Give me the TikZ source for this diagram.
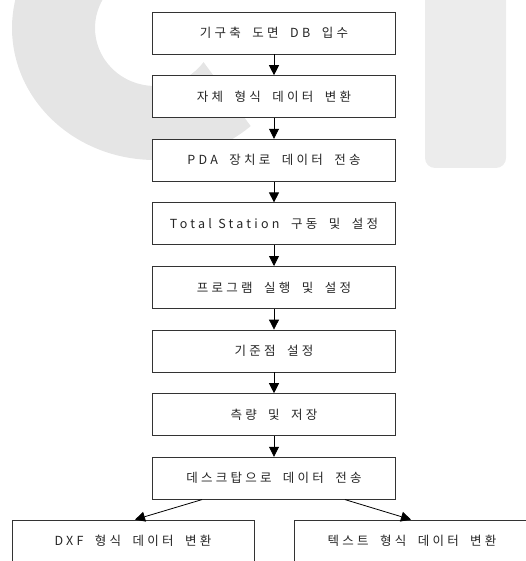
\documentclass[tikz,border=0pt]{standalone}
\usepackage{fontspec}
\newfontfamily\kr[LetterSpace=26,WordSpace=1.9]{Noto Sans CJK KR}
\usetikzlibrary{arrows.meta}
\begin{document}
\begin{tikzpicture}[x=1pt,y=-1pt,
  box/.style={draw=black!80, line width=0.8pt, fill=white, minimum width=243pt, minimum height=42pt, inner sep=0pt, font=\kr\fontsize{12.5}{15}\selectfont, text=black!85},
  arr/.style={draw=black, line width=0.8pt, -{Triangle[width=10pt,length=10pt]}},
  wm/.style={fill=gray!20}]
\useasboundingbox (0,0) rectangle (526,561);
\clip (0,0) rectangle (526,561);
% watermark
\fill[gray!15, rounded corners=10pt] (425,-20) rectangle (506,168);
\begin{scope}[shift={(155,28)}]
\fill[wm] (48:143 and 132) arc[start angle=48, end angle=215, x radius=143, y radius=132]
  -- (215:60 and 58) arc[start angle=215, end angle=36, x radius=60, y radius=58] -- cycle;
\end{scope}
% boxes
\node[box] (b1) at (274,33) {기구축 도면 DB 입수};
\node[box] (b2) at (274,96.6) {자체 형식 데이터 변환};
\node[box] (b3) at (274,160.2) {PDA 장치로 데이터 전송};
\node[box] (b4) at (274,223.8) {Total{\kern-5pt} Station 구동 및 설정};
\node[box] (b5) at (274,287.4) {프로그램 실행 및 설정};
\node[box] (b6) at (274,351) {기준점 설정};
\node[box] (b7) at (274,414.6) {측량 및 저장};
\node[box] (b8) at (274,478.2) {데스크탑으로 데이터 전송};
\node[box, minimum width=242pt] (bl) at (133,541) {DXF 형식 데이터 변환};
\node[box, minimum width=236pt] (br) at (412,541) {텍스트 형식 데이터 변환};
% connectors
\draw[arr] (b1) -- (b2);
\draw[arr] (b2) -- (b3);
\draw[arr] (b3) -- (b4);
\draw[arr] (b4) -- (b5);
\draw[arr] (b5) -- (b6);
\draw[arr] (b6) -- (b7);
\draw[arr] (b7) -- (b8);
\draw[arr] ([xshift=-72pt]b8.south) -- ([xshift=2pt]bl.north);
\draw[arr] ([xshift=71pt]b8.south) -- ([xshift=-1pt]br.north);
\end{tikzpicture}
\end{document}
